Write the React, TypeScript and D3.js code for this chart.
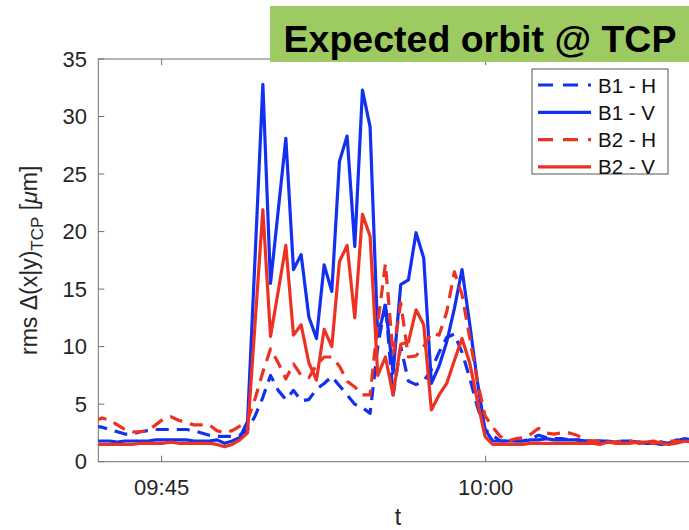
import React from 'react';
import * as d3 from 'd3';

const W = 689;
const H = 530;

// sampling grid of the measurement (shared by all series)
const startTime = '09:41:53';
const stepSeconds = 21.28;
const xDomain = ['09:42:04', '10:09:50'];
const xTickLabels = ['09:45', '10:00'];
const yTicks = [0, 5, 10, 15, 20, 25, 30, 35];

const seriesNames = ['B1 - H', 'B1 - V', 'B2 - H', 'B2 - V'];

const b1H = [
  3.1, 3.0, 2.8, 2.6, 2.4, 2.4, 2.6, 2.7, 2.8, 2.8,
  2.8, 2.8, 2.8, 2.7, 2.5, 2.3, 2.2, 2.2, 2.2, 2.3,
  2.8, 4.0, 5.6, 7.5, 6.2, 5.4, 6.2, 5.3, 5.4, 6.3,
  6.8, 7.4, 6.6, 5.8, 5.0, 4.7, 4.2, 10.0, 13.8, 5.8,
  10.0, 7.0, 6.7, 7.0, 8.0, 9.5, 10.8, 11.1, 9.5, 7.3,
  4.8, 2.8, 2.3, 1.8, 1.8, 1.8, 1.8, 2.0, 2.3, 2.1,
  2.0, 2.0, 1.9, 1.9, 1.8, 1.8, 1.8, 1.7, 1.8, 1.7,
  1.7, 1.7, 1.6, 1.7, 1.7, 1.6, 1.8, 2.0, 1.9,
];

const b1V = [
  1.8, 1.8, 1.8, 1.7, 1.8, 1.8, 1.8, 1.8, 1.9, 1.9,
  1.9, 1.9, 1.9, 1.8, 1.8, 1.8, 1.9, 1.6, 1.8, 2.1,
  3.5, 18.0, 32.8, 15.5, 21.8, 28.1, 16.7, 18.0, 12.6, 10.7,
  17.1, 14.8, 26.1, 28.3, 18.7, 32.3, 29.1, 10.9, 13.6, 7.7,
  15.4, 15.8, 19.9, 17.7, 6.8, 8.3, 10.4, 13.3, 16.7, 12.0,
  7.0, 2.8, 1.8, 1.8, 1.8, 1.8, 1.8, 1.9, 1.9, 2.0,
  1.9, 1.9, 1.9, 1.9, 1.8, 1.8, 1.8, 1.8, 1.7, 1.8,
  1.8, 1.7, 1.6, 1.6, 1.5, 1.6, 1.9, 1.8, 1.8,
];

const b2H = [
  3.5, 3.8, 3.6, 3.2, 2.8, 2.6, 2.6, 2.7, 3.2, 3.7,
  3.9, 3.6, 3.4, 3.2, 3.2, 3.2, 2.7, 2.5, 2.7, 3.1,
  3.6, 5.5, 7.8, 9.8, 8.6, 7.2, 8.5, 7.5, 7.3, 8.4,
  9.1, 9.1, 8.3, 7.0, 6.5, 5.8, 5.8, 12.0, 17.2, 9.3,
  13.8, 9.1, 9.2, 10.0, 11.2, 11.0, 13.0, 16.5, 14.5, 10.8,
  7.0, 4.0, 3.0, 2.2, 1.8, 2.0, 2.1, 2.4, 2.9, 2.5,
  2.4, 2.5, 2.5, 2.3, 1.9, 1.8, 1.8, 1.7, 1.7, 1.8,
  1.8, 1.6, 1.6, 1.6, 1.7, 1.8, 1.8, 1.7, 1.7,
];

const b2V = [
  1.5, 1.5, 1.5, 1.5, 1.5, 1.5, 1.6, 1.6, 1.6, 1.6,
  1.7, 1.6, 1.6, 1.6, 1.6, 1.6, 1.5, 1.3, 1.5, 1.9,
  2.5, 12.2, 21.9, 10.9, 14.8, 18.8, 11.0, 11.9, 8.6, 7.1,
  11.5, 10.0, 17.4, 18.8, 12.5, 21.5, 19.6, 7.5, 9.1, 5.8,
  10.2, 10.4, 13.2, 11.9, 4.5, 5.8, 6.8, 8.8, 10.7, 8.6,
  5.3, 2.2, 1.5, 1.5, 1.5, 1.5, 1.5, 1.6, 1.6, 1.6,
  1.6, 1.6, 1.6, 1.6, 1.6, 1.6, 1.5, 1.7, 1.6, 1.6,
  1.6, 1.7, 1.7, 1.8, 1.6, 1.5, 1.6, 1.8, 1.7,
];

const BLUE = '#1230f0';
const RED = '#ec3223';
const FONT = '"Liberation Sans", Arial, Helvetica, sans-serif';

function toDate(s: string): Date {
  const [h, m, sec] = s.split(':').map(Number);
  return new Date(2020, 0, 1, h, m, 0, Math.round((sec || 0) * 1000));
}

const margin = { left: 98.3, right: 698, top: 59, bottom: 461.7 };

export default function App() {
  const x = d3.scaleTime().domain(xDomain.map(toDate)).range([margin.left, margin.right]);
  const y = d3.scaleLinear().domain([0, 35]).range([margin.bottom, margin.top]);
  const t0 = toDate(startTime).getTime();

  const series = [
    { name: seriesNames[0], values: b1H, color: BLUE, dash: '13,8' },
    { name: seriesNames[1], values: b1V, color: BLUE, dash: null },
    { name: seriesNames[2], values: b2H, color: RED, dash: '13,8' },
    { name: seriesNames[3], values: b2V, color: RED, dash: null },
  ];

  const line = d3
    .line<number>()
    .x((_, i) => x(new Date(t0 + i * stepSeconds * 1000)))
    .y((v) => y(v));

  const axisColor = '#6e6e6e';
  const tickColor = '#262626';
  const tickLen = 6;

  const legendX = 532;
  const legendY = 69;
  const legendW = 136;
  const legendH = 105;
  const rowH = 27.3;

  return (
    <svg
      width={W}
      height={H}
      style={{ position: 'absolute', left: 0, top: 0, background: '#fff' }}
      fontFamily={FONT}
    >
      <defs>
        <clipPath id="plotClip">
          <rect x={margin.left} y={margin.top - 2} width={margin.right - margin.left} height={margin.bottom - margin.top + 2} />
        </clipPath>
      </defs>
      <rect x={0} y={0} width={W} height={H} fill="#fff" />

      {/* axes box */}
      <rect
        x={margin.left}
        y={margin.top}
        width={margin.right - margin.left}
        height={margin.bottom - margin.top}
        fill="none"
        stroke={axisColor}
        strokeWidth={1}
      />

      {/* y ticks */}
      {yTicks.map((v) => (
        <g key={'y' + v}>
          <line x1={margin.left} x2={margin.left + tickLen} y1={y(v)} y2={y(v)} stroke={axisColor} />
          <text x={87} y={y(v) + 7.5} textAnchor="end" fontSize={22} fill={tickColor}>
            {v}
          </text>
        </g>
      ))}

      {/* x ticks */}
      {xTickLabels.map((s) => {
        const xv = x(toDate(s));
        return (
          <g key={'x' + s}>
            <line x1={xv} x2={xv} y1={margin.bottom} y2={margin.bottom - tickLen} stroke={axisColor} />
            <line x1={xv} x2={xv} y1={margin.top} y2={margin.top + tickLen} stroke={axisColor} />
            <text x={xv} y={495} textAnchor="middle" fontSize={22} fill={tickColor}>
              {s}
            </text>
          </g>
        );
      })}

      {/* data */}
      <g clipPath="url(#plotClip)">
        {series.map((s) => (
          <path
            key={s.name}
            d={line(s.values) || ''}
            fill="none"
            stroke={s.color}
            strokeWidth={3.2}
            strokeDasharray={s.dash || undefined}
            strokeLinejoin="round"
          />
        ))}
      </g>

      {/* axis labels */}
      <text x={398} y={525} textAnchor="middle" fontSize={23} fill={tickColor}>
        t
      </text>
      <text
        transform={`translate(37, ${(margin.top + margin.bottom) / 2}) rotate(-90)`}
        textAnchor="middle"
        fontSize={23}
        fill={tickColor}
      >
        rms Δ(x|y)
        <tspan dy={6} fontSize={17}>TCP</tspan>
        <tspan dy={-6}> [</tspan>
        <tspan fontStyle="italic">μ</tspan>
        <tspan>m]</tspan>
      </text>

      {/* legend */}
      <rect x={legendX} y={legendY} width={legendW} height={legendH} fill="#fff" stroke="#555" strokeWidth={1} />
      {series.map((s, i) => {
        const cy = legendY + 16 + i * rowH;
        return (
          <g key={'lg' + s.name}>
            <line
              x1={legendX + 6}
              x2={legendX + 59}
              y1={cy}
              y2={cy}
              stroke={s.color}
              strokeWidth={3.2}
              strokeDasharray={s.dash ? '15,10' : undefined}
            />
            <text x={legendX + 66} y={cy + 7.5} fontSize={20.5} fill="#111">
              {s.name}
            </text>
          </g>
        );
      })}

      {/* title banner */}
      <rect x={270} y={6} width={W - 270 + 5} height={56} fill="#9dcb62" />
      <text x={480} y={52} textAnchor="middle" fontSize={37.5} fontWeight="bold" fill="#000">
        Expected orbit @ TCP
      </text>
    </svg>
  );
}
